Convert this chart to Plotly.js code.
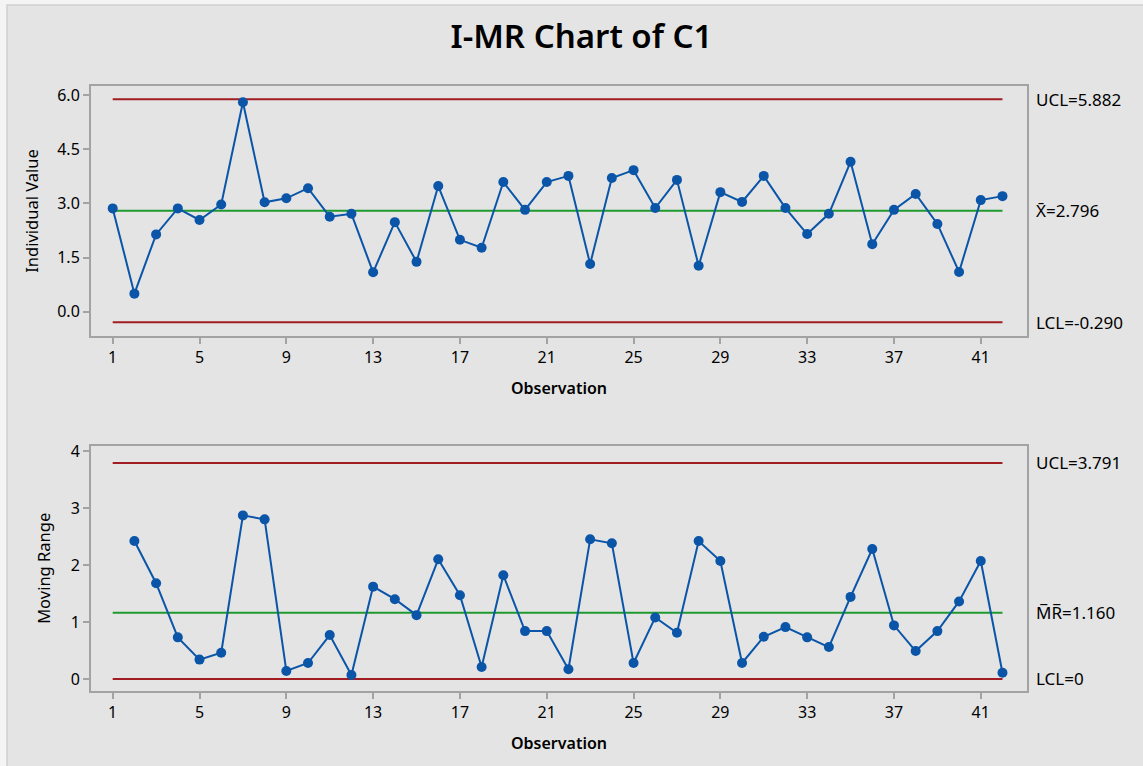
<!DOCTYPE html>
<html>
<head>
<meta charset="utf-8">
<script src="https://cdn.plot.ly/plotly-3.0.1.min.js"></script>
<style>html,body{margin:0;padding:0;background:#f4f4f4;}#chart{width:1143px;height:766px;}</style>
</head>
<body>
<div id="chart"></div>
<script>
const observations = [1,2,3,4,5,6,7,8,9,10,11,12,13,14,15,16,17,18,19,20,21,22,23,24,25,26,27,28,29,30,31,32,33,34,35,36,37,38,39,40,41,42];
const individualValues = [2.86,0.50,2.14,2.86,2.54,2.97,5.80,3.03,3.14,3.42,2.63,2.71,1.09,2.48,1.38,3.48,1.99,1.77,3.59,2.82,3.59,3.76,1.32,3.70,3.92,2.87,3.65,1.27,3.31,3.04,3.76,2.87,2.15,2.71,4.15,1.87,2.82,3.26,2.43,1.10,3.09,3.20];
const mrObservations = [2,3,4,5,6,7,8,9,10,11,12,13,14,15,16,17,18,19,20,21,22,23,24,25,26,27,28,29,30,31,32,33,34,35,36,37,38,39,40,41,42];
const movingRanges = [2.42,1.68,0.73,0.34,0.46,2.87,2.80,0.14,0.28,0.77,0.07,1.62,1.40,1.12,2.10,1.47,0.21,1.82,0.84,0.84,0.17,2.45,2.38,0.28,1.08,0.81,2.42,2.07,0.28,0.74,0.91,0.73,0.56,1.44,2.28,0.94,0.49,0.84,1.36,2.07,0.11];
const iLimits = {ucl: 5.882, center: 2.796, lcl: -0.290};
const mrLimits = {ucl: 3.791, center: 1.160, lcl: 0};
const iLabels = ["UCL=5.882", "X\u0304=2.796", "LCL=-0.290"];
const mrLabels = ["UCL=3.791", "M\u0305R\u0305=1.160", "LCL=0"];
const xTickVals = [1,5,9,13,17,21,25,29,33,37,41];

const blue = "#0a55a8", red = "#a11d21", green = "#1f9a2e", frame = "#a3a3a3";
const FONT = "Noto Sans, Open Sans, DejaVu Sans, sans-serif";
const xFirst = observations[0], xLast = observations[observations.length - 1];

function hline(y, color, xa, ya) {
  return {x: [xFirst, xLast], y: [y, y], mode: "lines", line: {color: color, width: 2}, xaxis: xa, yaxis: ya, hoverinfo: "skip", showlegend: false};
}

const data = [
  hline(iLimits.ucl, red, "x", "y"),
  hline(iLimits.lcl, red, "x", "y"),
  hline(iLimits.center, green, "x", "y"),
  {x: observations, y: individualValues, mode: "lines+markers", line: {color: blue, width: 2}, marker: {color: blue, size: 10}, xaxis: "x", yaxis: "y", showlegend: false},
  hline(mrLimits.ucl, red, "x2", "y2"),
  hline(mrLimits.lcl, red, "x2", "y2"),
  hline(mrLimits.center, green, "x2", "y2"),
  {x: mrObservations, y: movingRanges, mode: "lines+markers", line: {color: blue, width: 2}, marker: {color: blue, size: 10}, xaxis: "x2", yaxis: "y2", showlegend: false}
];

const axisCommon = {
  showline: true, mirror: true, linecolor: frame, linewidth: 2,
  showgrid: false, zeroline: false, ticks: "outside", ticklen: 6, tickwidth: 2, tickcolor: frame,
  tickfont: {family: FONT, size: 16, color: "#000"}
};
const xCommon = Object.assign({}, axisCommon, {
  range: [0.0, 43.13], tickmode: "array", tickvals: xTickVals,
  title: {text: "Observation", font: {family: FONT, size: 16, color: "#000", weight: 600}, standoff: 16}
});

function labelAnn(text, y, yref) {
  return {xref: "paper", yref: yref, x: 1.008, y: y, xanchor: "left", yanchor: "middle", text: text, showarrow: false, font: {family: FONT, size: 17, color: "#000"}};
}

const layout = {
  width: 1143, height: 766,
  paper_bgcolor: "#f4f4f4", plot_bgcolor: "#ffffff",
  margin: {l: 91, r: 116, t: 86, b: 75},
  showlegend: false,
  title: {text: "I-MR Chart of C1", font: {family: FONT, size: 33, color: "#000", weight: 600}, x: 0.524, xref: "paper", xanchor: "center", y: 0.952, yanchor: "middle"},
  xaxis: Object.assign({}, xCommon, {anchor: "y", domain: [0, 1]}),
  yaxis: Object.assign({}, axisCommon, {anchor: "x", domain: [0.5868, 1], range: [-0.673, 6.25], tickmode: "array", tickvals: [0, 1.5, 3, 4.5, 6], ticktext: ["0.0","1.5","3.0","4.5","6.0"],
    title: {text: "Individual Value", font: {family: FONT, size: 16.5, color: "#000"}, standoff: 14}}),
  xaxis2: Object.assign({}, xCommon, {anchor: "y2", domain: [0, 1]}),
  yaxis2: Object.assign({}, axisCommon, {anchor: "x2", domain: [0, 0.4055], range: [-0.211, 4.093], tickmode: "array", tickvals: [0,1,2,3,4],
    title: {text: "Moving Range", font: {family: FONT, size: 16.5, color: "#000"}, standoff: 16}}),
  shapes: [
    {type: "rect", xref: "paper", yref: "paper", x0: -0.0897, x1: 1.2, y0: -0.2, y1: 1.1339, fillcolor: "#e4e4e4", line: {color: "#cfcfcf", width: 1.5}, layer: "below"}
  ],
  annotations: [
    labelAnn(iLabels[0], iLimits.ucl, "y"),
    labelAnn(iLabels[1], iLimits.center, "y"),
    labelAnn(iLabels[2], iLimits.lcl, "y"),
    labelAnn(mrLabels[0], mrLimits.ucl, "y2"),
    labelAnn(mrLabels[1], mrLimits.center, "y2"),
    labelAnn(mrLabels[2], mrLimits.lcl, "y2")
  ]
};

Plotly.newPlot("chart", data, layout, {displayModeBar: false, staticPlot: true});
</script>
</body>
</html>
